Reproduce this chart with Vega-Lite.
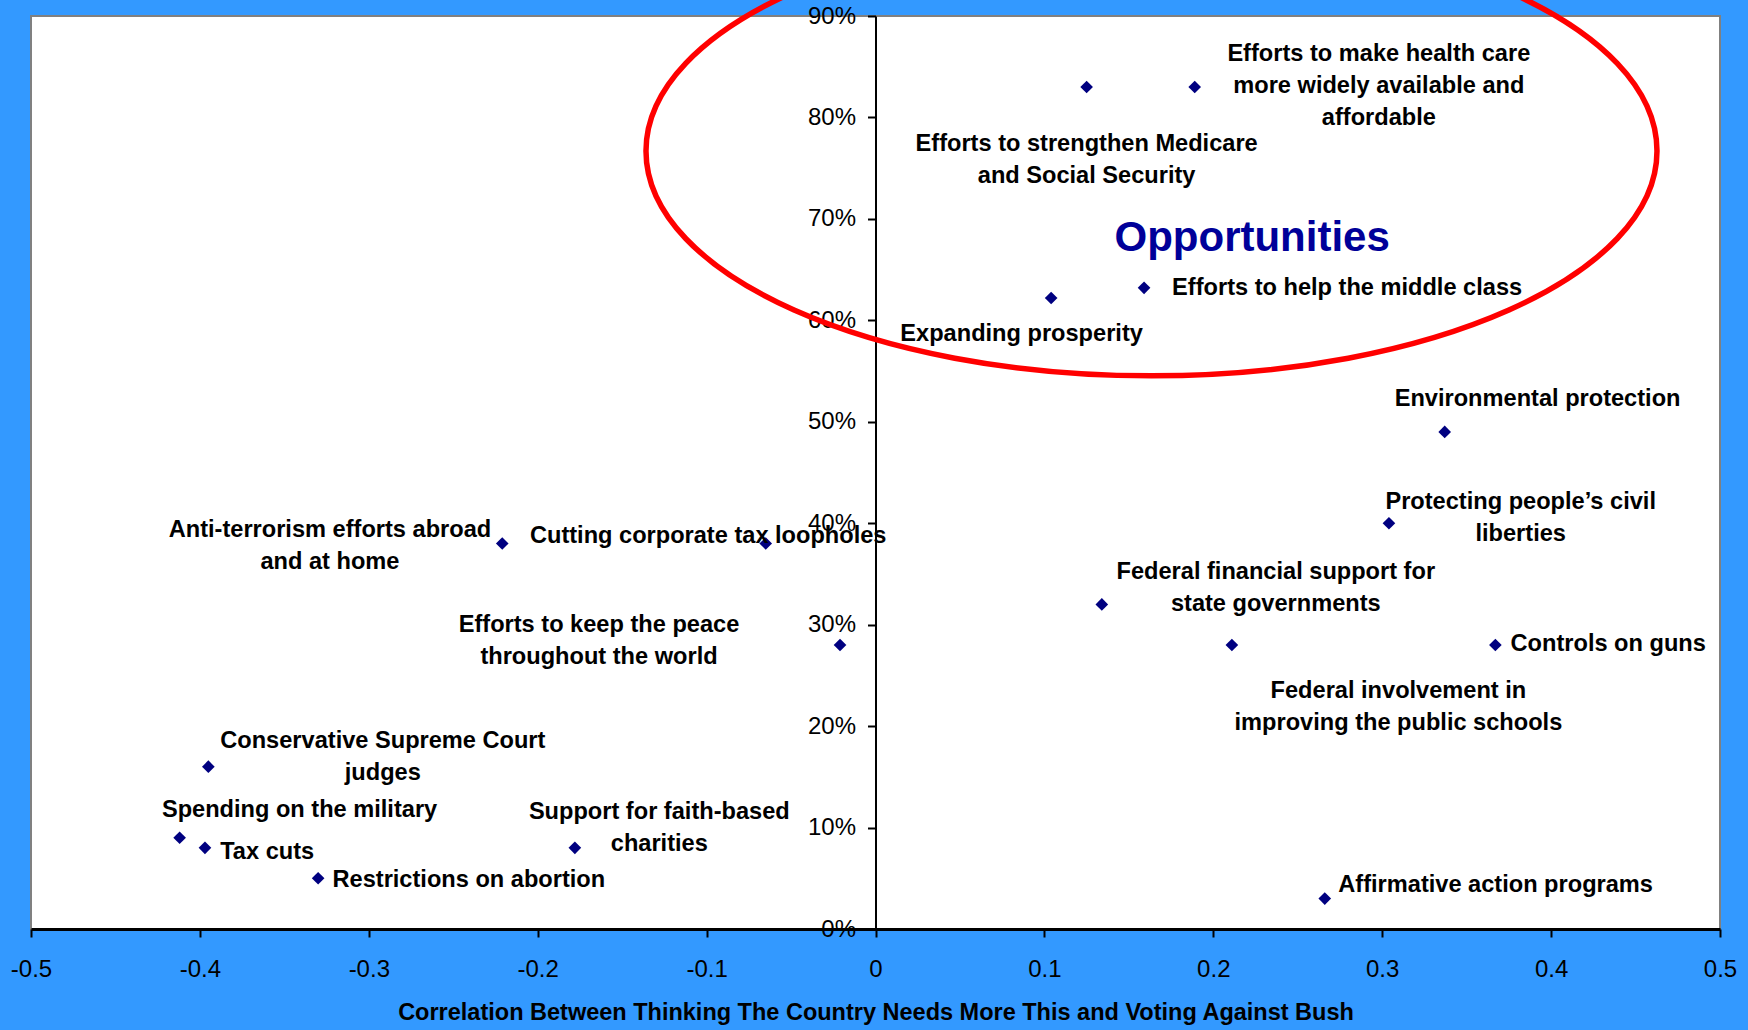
{
  "$schema": "https://vega.github.io/schema/vega-lite/v6.json",
  "width": 1689,
  "height": 913,
  "autosize": {"type": "none"},
  "padding": {"left": 31, "top": 16, "right": 28, "bottom": 101},
  "background": "#3399FF",
  "config": {
    "view": {"fill": "white", "stroke": "#808080", "strokeWidth": 2},
    "font": "Liberation Sans"
  },
  "datasets": {
    "issues": [
      {"issue": "Efforts to strengthen Medicare and Social Security", "correlation": 0.125, "share": 83},
      {"issue": "Efforts to make health care more widely available and affordable", "correlation": 0.189, "share": 83},
      {"issue": "Expanding prosperity", "correlation": 0.104, "share": 62.2},
      {"issue": "Efforts to help the middle class", "correlation": 0.159, "share": 63.2},
      {"issue": "Environmental protection", "correlation": 0.337, "share": 49},
      {"issue": "Protecting people’s civil liberties", "correlation": 0.304, "share": 40},
      {"issue": "Federal financial support for state governments", "correlation": 0.134, "share": 32},
      {"issue": "Federal involvement in improving the public schools", "correlation": 0.211, "share": 28},
      {"issue": "Controls on guns", "correlation": 0.367, "share": 28},
      {"issue": "Affirmative action programs", "correlation": 0.266, "share": 3},
      {"issue": "Anti-terrorism efforts abroad and at home", "correlation": -0.221, "share": 38},
      {"issue": "Cutting corporate tax loopholes", "correlation": -0.065, "share": 38},
      {"issue": "Efforts to keep the peace throughout the world", "correlation": -0.021, "share": 28},
      {"issue": "Conservative Supreme Court judges", "correlation": -0.395, "share": 16},
      {"issue": "Spending on the military", "correlation": -0.412, "share": 9},
      {"issue": "Tax cuts", "correlation": -0.397, "share": 8},
      {"issue": "Restrictions on abortion", "correlation": -0.33, "share": 5},
      {"issue": "Support for faith-based charities", "correlation": -0.178, "share": 8}
    ],
    "centeredLabels": [
      {"label": "Efforts to make health care\nmore widely available and\naffordable", "correlation": 0.298, "share": 86.3},
      {"label": "Efforts to strengthen Medicare\nand Social Security", "correlation": 0.125, "share": 77.4},
      {"label": "Expanding prosperity", "correlation": 0.0865, "share": 58.7},
      {"label": "Environmental protection", "correlation": 0.392, "share": 52.2},
      {"label": "Protecting people’s civil\nliberties", "correlation": 0.382, "share": 42.1},
      {"label": "Federal financial support for\nstate governments", "correlation": 0.237, "share": 35.2},
      {"label": "Federal involvement in\nimproving the public schools", "correlation": 0.3096, "share": 23.5},
      {"label": "Anti-terrorism efforts abroad\nand at home", "correlation": -0.323, "share": 39.3},
      {"label": "Efforts to keep the peace\nthroughout the world", "correlation": -0.1637, "share": 30.0},
      {"label": "Conservative Supreme Court\njudges", "correlation": -0.2917, "share": 18.5},
      {"label": "Spending on the military", "correlation": -0.341, "share": 11.76},
      {"label": "Support for faith-based\ncharities", "correlation": -0.128, "share": 11.5}
    ],
    "leftLabels": [
      {"label": "Efforts to help the middle class", "correlation": 0.1756, "share": 63.2},
      {"label": "Controls on guns", "correlation": 0.376, "share": 28.1},
      {"label": "Affirmative action programs", "correlation": 0.274, "share": 4.3},
      {"label": "Cutting corporate tax loopholes", "correlation": -0.2046, "share": 38.7},
      {"label": "Tax cuts", "correlation": -0.388, "share": 7.6},
      {"label": "Restrictions on abortion", "correlation": -0.3215, "share": 4.8}
    ],
    "callout": [
      {"label": "Opportunities", "correlation": 0.223, "share": 68.1}
    ],
    "highlight": [
      {"region": "Opportunities", "correlation": 0.1634, "share": 76.7}
    ]
  },
  "encoding": {
    "x": {
      "field": "correlation",
      "type": "quantitative",
      "scale": {"domain": [-0.5, 0.5], "nice": false, "zero": false},
      "axis": {
        "values": [-0.5, -0.4, -0.3, -0.2, -0.1, 0, 0.1, 0.2, 0.3, 0.4, 0.5],
        "title": "Correlation Between Thinking The Country Needs More This and Voting Against Bush",
        "grid": false,
        "domainColor": "black",
        "domainWidth": 3,
        "tickColor": "black",
        "tickWidth": 2,
        "tickSize": 8,
        "labelFontSize": 24,
        "labelColor": "black",
        "labelPadding": 20,
        "labelFlush": false,
        "labelOverlap": false,
        "labelExpr": "datum.value == 0 ? '0' : (datum.value < 0 ? '-' : '') + format(abs(datum.value), '.1f')",
        "titleFontSize": 23.5,
        "titleFontWeight": "bold",
        "titleColor": "black",
        "titlePadding": 19
      }
    },
    "y": {
      "field": "share",
      "type": "quantitative",
      "scale": {"domain": [0, 90], "nice": false},
      "axis": {
        "values": [0, 10, 20, 30, 40, 50, 60, 70, 80, 90],
        "title": null,
        "grid": false,
        "offset": -844.5,
        "domainColor": "black",
        "domainWidth": 2,
        "tickColor": "black",
        "tickWidth": 2,
        "tickSize": 8,
        "labelFontSize": 24,
        "labelColor": "black",
        "labelPadding": 12,
        "labelFlush": false,
        "labelOverlap": false,
        "labelExpr": "datum.value + '%'"
      }
    }
  },
  "layer": [
    {
      "data": {"name": "issues"},
      "mark": {"type": "point", "shape": "diamond", "filled": true, "color": "#000080", "size": 160, "opacity": 1}
    },
    {
      "data": {"name": "centeredLabels"},
      "mark": {"type": "text", "align": "center", "baseline": "middle", "fontSize": 23.6, "fontWeight": "bold", "color": "black", "lineBreak": "\n", "lineHeight": 32},
      "encoding": {"text": {"field": "label"}}
    },
    {
      "data": {"name": "leftLabels"},
      "mark": {"type": "text", "align": "left", "baseline": "middle", "fontSize": 23.6, "fontWeight": "bold", "color": "black"},
      "encoding": {"text": {"field": "label"}}
    },
    {
      "data": {"name": "callout"},
      "mark": {"type": "text", "align": "center", "baseline": "middle", "fontSize": 42, "fontWeight": "bold", "color": "#000099"},
      "encoding": {"text": {"field": "label"}}
    },
    {
      "data": {"name": "highlight"},
      "mark": {
        "type": "point",
        "shape": "M1,0 C1,0.2458 0.5523,0.445 0,0.445 C-0.5523,0.445 -1,0.2458 -1,0 C-1,-0.2458 -0.5523,-0.445 0,-0.445 C0.5523,-0.445 1,-0.2458 1,0 Z",
        "filled": false,
        "stroke": "#FF0000",
        "strokeWidth": 5.5,
        "size": 1022121,
        "opacity": 1
      }
    }
  ]
}
